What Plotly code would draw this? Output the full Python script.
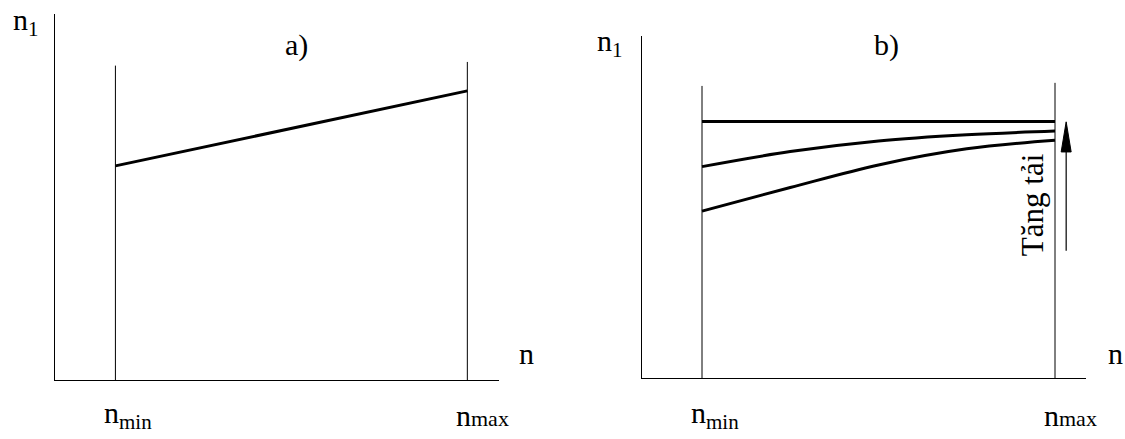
import plotly.graph_objects as go

# Speed axis: the two boundary speeds of the working range
N_MIN, N_MAX = 1, 7
TICK_TEXT = ["n<sub>min</sub>", "n<span style='font-size:22px'>max</span>"]

# a) output speed grows linearly with input speed
a_speed = [N_MIN, N_MAX]
a_n1 = [5.85, 7.90]
a_bound_top = [8.59, 8.69]   # heights of the n_min / n_max boundary lines

# b) family of curves, load increasing upwards
b_speed = [1.0, 2.5, 4.0, 5.5, 7.0]
b_n1_top = [7.50, 7.50, 7.50, 7.50, 7.50]
b_n1_mid = [6.18, 6.62, 6.93, 7.11, 7.22]
b_n1_low = [4.88, 5.57, 6.23, 6.70, 6.95]
b_bound_top = [8.54, 8.63]

# "load increase" arrow
ARROW_N = 7.19
ARROW_FROM, ARROW_TO = 3.72, 7.49

W, H = 1125, 439
FONT = "Times New Roman, Liberation Serif, serif"
INK = "black"


def px(x):
    return x / W


def py(y):
    return 1 - y / H


fig = go.Figure()

thin = dict(color=INK, width=1)
thick = dict(color=INK, width=3)

# panel a
for n, top in zip([N_MIN, N_MAX], a_bound_top):
    fig.add_trace(go.Scatter(x=[n, n], y=[0, top], mode="lines", line=thin,
                             xaxis="x", yaxis="y", hoverinfo="skip"))
fig.add_trace(go.Scatter(x=a_speed, y=a_n1, mode="lines", line=thick,
                         xaxis="x", yaxis="y"))

# panel b
for n, top in zip([N_MIN, N_MAX], b_bound_top):
    fig.add_trace(go.Scatter(x=[n, n], y=[0, top], mode="lines", line=thin,
                             xaxis="x2", yaxis="y2", hoverinfo="skip"))
for curve in (b_n1_top, b_n1_mid, b_n1_low):
    fig.add_trace(go.Scatter(x=b_speed, y=curve, mode="lines",
                             line=dict(color=INK, width=3, shape="spline", smoothing=1.0),
                             xaxis="x2", yaxis="y2"))

# arrow shaft and a slim filled head
HEAD_LEN, HEAD_HALF = 0.88, 0.085
fig.add_trace(go.Scatter(x=[ARROW_N, ARROW_N], y=[ARROW_FROM, ARROW_TO - HEAD_LEN],
                         mode="lines", line=dict(color=INK, width=1.2),
                         xaxis="x2", yaxis="y2"))
fig.add_trace(go.Scatter(x=[ARROW_N - HEAD_HALF, ARROW_N, ARROW_N + HEAD_HALF, ARROW_N - HEAD_HALF],
                         y=[ARROW_TO - HEAD_LEN, ARROW_TO, ARROW_TO - HEAD_LEN, ARROW_TO - HEAD_LEN],
                         mode="lines", fill="toself", fillcolor=INK,
                         line=dict(color=INK, width=1), xaxis="x2", yaxis="y2"))

axis_common = dict(showline=True, linecolor=INK, linewidth=1, showgrid=False,
                   zeroline=False, showticklabels=False, ticks="")

fig.update_layout(
    width=W, height=H,
    margin=dict(l=0, r=0, t=0, b=0),
    paper_bgcolor="white", plot_bgcolor="white",
    showlegend=False,
    font=dict(family=FONT, size=30, color=INK),
    xaxis=dict(domain=[px(55), px(499)], range=[-0.03, 7.54], anchor="y", **axis_common),
    yaxis=dict(domain=[py(380), py(14)], range=[0, 10], anchor="x", **axis_common),
    xaxis2=dict(domain=[px(642), px(1086)], range=[-0.02, 7.527], anchor="y2", **axis_common),
    yaxis2=dict(domain=[py(378), py(36)], range=[0, 10], anchor="x2", **axis_common),
)

txt = dict(family=FONT, size=30, color=INK)
ann = []
# axis names
ann.append(dict(text="n<sub>1</sub>", x=px(11), y=py(22), xref="paper", yref="paper",
                xanchor="left", yanchor="middle", showarrow=False, font=txt))
ann.append(dict(text="n<sub>1</sub>", x=px(595), y=py(43), xref="paper", yref="paper",
                xanchor="left", yanchor="middle", showarrow=False, font=txt))
ann.append(dict(text="n", x=px(526), y=py(353), xref="paper", yref="paper",
                xanchor="center", yanchor="middle", showarrow=False, font=txt))
ann.append(dict(text="n", x=px(1115), y=py(353), xref="paper", yref="paper",
                xanchor="center", yanchor="middle", showarrow=False, font=txt))
# panel captions
ann.append(dict(text="a)", x=px(296), y=py(45), xref="paper", yref="paper",
                xanchor="center", yanchor="middle", showarrow=False, font=txt))
ann.append(dict(text="b)", x=px(886), y=py(45), xref="paper", yref="paper",
                xanchor="center", yanchor="middle", showarrow=False, font=txt))
# boundary speed labels under each panel
for xr in ("x", "x2"):
    for n, t in zip([N_MIN, N_MAX], TICK_TEXT):
        ann.append(dict(text=t, x=n, xref=xr, y=py(415), yref="paper",
                        xanchor="left", yanchor="middle", xshift=-13, showarrow=False,
                        font=txt))
# load direction label
ann.append(dict(text="Tăng tải", x=6.63, y=5.06, xref="x2", yref="y2",
                textangle=-90, xanchor="center", yanchor="middle", showarrow=False,
                font=dict(family=FONT, size=31, color=INK)))

fig.update_layout(annotations=ann)

fig.write_html("out.html")
